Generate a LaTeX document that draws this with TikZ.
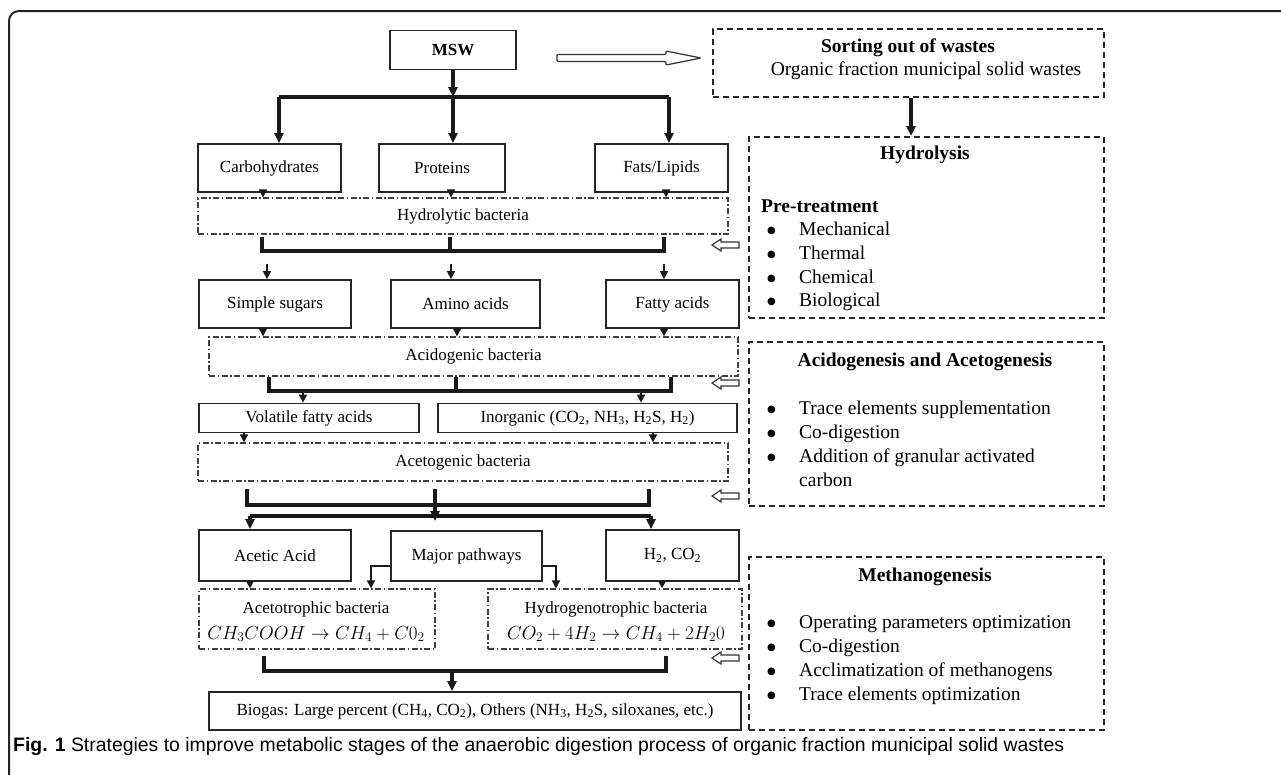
\documentclass[tikz,border=0pt]{standalone}
\usepackage{fix-cm}
\usepackage{fontspec}
\setmainfont{Liberation Serif}
\newfontfamily\capfont{Liberation Sans}
\newfontfamily\dvsfont{DejaVu Sans}
\usetikzlibrary{arrows.meta}
\newcommand\lfnt{\fontsize{17}{20}\selectfont}
\newcommand\rfnt{\fontsize{19.5}{23}\selectfont}
\newcommand\mfnt{\fontsize{19}{22}\selectfont}
\newcommand\bdot{\raisebox{2.5pt}{\dvsfont\fontsize{10}{12}\selectfont ●}}
\begin{document}
\begin{tikzpicture}[x=1pt,y=-1pt,
  box/.style={draw=black!85,line width=1.8pt,inner sep=0pt,font=\lfnt},
  ddbox/.style={draw=black!75,line width=1.2pt,dash pattern=on 6pt off 2.5pt on 1.5pt off 2.5pt,inner sep=0pt,font=\lfnt},
  rbox/.style={draw=black!85,line width=2pt,dash pattern=on 6pt off 4pt,inner sep=0pt},
  thk/.style={draw=black!90,line width=3.2pt},
  tip/.style={-{Triangle[length=10pt,width=9pt]}},
  sm/.style={draw=black!90,line width=1.6pt,-{Triangle[length=8pt,width=8pt]}},
  hol/.style={draw=black!80,line width=1.2pt,fill=white,line join=miter},
  rt/.style={font=\rfnt,inner sep=0pt},
  rtb/.style={font=\rfnt\bfseries,inner sep=0pt},
  bul/.style={font=\rfnt,inner sep=0pt,anchor=base west}
]
\useasboundingbox (0,0) rectangle (1281,774);
\fill[white] (0,0) rectangle (1281,774);
% outer frame
\draw[line width=2pt,black!85,rounded corners=10pt] (9,780) -- (9,11) -- (1290,11);

% ---------- left column ----------
\node[box,minimum width=126pt,minimum height=39pt,font=\lfnt\bfseries] (msw) at (453,50) {MSW};
\node[box,minimum width=143pt,minimum height=48pt] (carb) at (269.5,168) {Carbohydrates};
\node[box,minimum width=126pt,minimum height=48pt] (prot) at (442,168) {Proteins};
\node[box,minimum width=133pt,minimum height=48pt] (fats) at (661.5,168) {Fats/Lipids};
\node[ddbox,minimum width=530pt,minimum height=36pt] (hyd) at (463,216) {Hydrolytic bacteria};
\node[box,minimum width=152pt,minimum height=48pt] (sugars) at (275,304) {Simple sugars};
\node[box,minimum width=149pt,minimum height=48pt] (amino) at (465.5,304) {Amino acids};
\node[box,minimum width=133pt,minimum height=48pt] (fatty) at (672.5,304) {Fatty acids};
\node[ddbox,minimum width=529pt,minimum height=39pt] (acid) at (473.5,356.5) {Acidogenic bacteria};
\node[box,minimum width=220pt,minimum height=29pt] (vfa) at (309,418) {Volatile fatty acids};
\node[box,minimum width=299pt,minimum height=29pt] (inorg) at (587.5,418) {Inorganic (CO\textsubscript{2}, NH\textsubscript{3}, H\textsubscript{2}S, H\textsubscript{2})};
\node[ddbox,minimum width=530pt,minimum height=38pt] (aceto) at (463,462) {Acetogenic bacteria};
\node[box,minimum width=152pt,minimum height=51pt] (acetic) at (275,555.5) {Acetic Acid};
\node[box,minimum width=151pt,minimum height=50pt] (major) at (466.5,556) {Major pathways};
\node[box,minimum width=133pt,minimum height=51pt] (h2co2) at (672.5,555.5) {H\textsubscript{2}, CO\textsubscript{2}};
\node[ddbox,minimum width=236pt,minimum height=60pt] (acetotr) at (317,619) {};
\node[ddbox,minimum width=254pt,minimum height=60pt] (hydrotr) at (615,619) {};
\node[inner sep=0pt,font=\lfnt] (acetotrT) at (316,609) {Acetotrophic bacteria};
\node[inner sep=0pt,font=\mfnt] (acetotrE) at (316,634) {$CH_3COOH \rightarrow CH_4 + C0_2$};
\node[inner sep=0pt,font=\lfnt] (hydrotrT) at (616,609) {Hydrogenotrophic bacteria};
\node[inner sep=0pt,font=\mfnt] (hydrotrE) at (616,634) {$CO_2 + 4H_2 \rightarrow CH_4 + 2H_20$};
\node[box,minimum width=532pt,minimum height=38pt] (biogas) at (475,711) {Biogas: Large percent (CH\textsubscript{4}, CO\textsubscript{2}), Others (NH\textsubscript{3}, H\textsubscript{2}S, siloxanes, etc.)};

% MSW split
\coordinate (b1m) at (453,97);
\coordinate (b1l) at (279,97);
\coordinate (b1r) at (669,97);
\draw[thk,tip] (msw.south) -- (b1m);
\draw[thk] (b1l) -- (b1r);
\draw[thk,tip] (b1l) -- (b1l |- carb.north);
\draw[thk,tip] (b1m) -- (b1m |- prot.north);
\draw[thk,tip] (b1r) -- (b1r |- fats.north);
% row1 -> hydrolytic
\draw[sm] ([xshift=-6.5pt]carb.south) -- ([xshift=-6.5pt]carb.south |- hyd.north);
\draw[sm] ([xshift=9pt]prot.south) -- ([xshift=9pt]prot.south |- hyd.north);
\draw[sm] ([xshift=4.5pt]fats.south) -- ([xshift=4.5pt]fats.south |- hyd.north);
% bracket 1
\coordinate (k1a) at (262,237); \coordinate (k1b) at (450,237); \coordinate (k1c) at (664,237);
\draw[thk] (k1a) -- ++(0,14) -| (k1c);
\draw[thk] (k1b) -- ++(0,14);
\coordinate (s1a) at (267,264); \coordinate (s1b) at (451,264); \coordinate (s1c) at (664,264);
\draw[sm] (s1a) -- (s1a |- sugars.north);
\draw[sm] (s1b) -- (s1b |- amino.north);
\draw[sm] (s1c) -- (s1c |- fatty.north);
% row2 -> acidogenic
\draw[sm] ([xshift=-12pt]sugars.south) -- ([xshift=-12pt]sugars.south |- acid.north);
\draw[sm] ([xshift=-8.5pt]amino.south) -- ([xshift=-8.5pt]amino.south |- acid.north);
\draw[sm] ([xshift=-8.5pt]fatty.south) -- ([xshift=-8.5pt]fatty.south |- acid.north);
% bracket 2
\coordinate (k2a) at (269,377); \coordinate (k2b) at (456,377); \coordinate (k2c) at (671,377);
\draw[thk] (k2a) -- ++(0,14) -| (k2c);
\draw[thk] (k2b) -- ++(0,14);
\coordinate (k2l) at (303,391); \coordinate (k2r) at (641,391);
\draw[sm] (k2l) -- (k2l |- vfa.north);
\draw[sm] (k2r) -- (k2r |- inorg.north);
% row3 -> acetogenic
\draw[sm] ([xshift=-65pt]vfa.south) -- ([xshift=-65pt]vfa.south |- aceto.north);
\draw[sm] ([xshift=65.5pt]inorg.south) -- ([xshift=65.5pt]inorg.south |- aceto.north);
% bracket 3
\coordinate (k3a) at (247,489); \coordinate (k3b) at (435,489); \coordinate (k3c) at (649,489);
\draw[thk] (k3a) -- ++(0,16) -| (k3c);
\coordinate (k3m) at (435,521);
\draw[thk,tip] (k3b) -- (k3m);
\coordinate (k4l) at (250,516); \coordinate (k4r) at (651,516);
\draw[thk] (k4l) -- (k4r);
\draw[thk,tip] (k4l) -- (k4l |- acetic.north);
\draw[thk,tip] (k4r) -- (k4r |- h2co2.north);
% row4 -> bacteria
\draw[sm] ([xshift=-25pt]acetic.south) -- ([xshift=-25pt]acetic.south |- acetotr.north);
\draw[sm] ([xshift=-10.5pt]h2co2.south) -- ([xshift=-10.5pt]h2co2.south |- hydrotr.north);
\coordinate (mpl) at (371,566); \coordinate (mpr) at (556,566);
\draw[sm] (major.west |- mpl) -- (mpl) -- (mpl |- acetotr.north);
\draw[sm] (major.east |- mpr) -- (mpr) -- (mpr |- hydrotr.north);
% bracket 4
\coordinate (k5a) at (264,656); \coordinate (k5c) at (666,656);
\draw[thk] (k5a) -- ++(0,15) -| (k5c);
\coordinate (k5m) at (452,671);
\draw[thk,tip] (k5m) -- (k5m |- biogas.north);

% hollow arrows
\draw[hol,rounded corners=1pt] (557,54.5) -- (666,54.5) -- (666,51) -- (701,58) -- (666,65) -- (666,61.5) -- (557,61.5) -- cycle;
\foreach \yy in {245,383,496,658}{
  \draw[hol] (712,\yy) -- (721,{\yy-6}) -- (721,{\yy-3}) -- (739,{\yy-3}) -- (739,{\yy+3}) -- (721,{\yy+3}) -- (721,{\yy+6}) -- cycle;
}

% ---------- right column ----------
\node[rbox,minimum width=391pt,minimum height=68pt] (sort) at (908.5,63) {};
\node[rtb] (sortT) at (908,48) {Sorting out of wastes};
\node[rt] (sortS) at (926,71) {Organic fraction municipal solid wastes};
\node[rbox,minimum width=355pt,minimum height=181pt] (hydrol) at (926.5,227.5) {};
\draw[thk,tip] ([xshift=2.5pt]sort.south) -- ([xshift=2.5pt]sort.south |- hydrol.north);
\node[rtb] (hydrolT) at (925,155) {Hydrolysis};
\node[rtb,anchor=base west] (pre) at (761,212) {Pre-treatment};
\node[bul] (hb1) at (767,235.5) {\bdot}; \node[bul] (ht1) at (799,235.5) {Mechanical};
\node[bul] (hb2) at (767,259.5) {\bdot}; \node[bul] (ht2) at (799,259.5) {Thermal};
\node[bul] (hb3) at (767,283.5) {\bdot}; \node[bul] (ht3) at (799,283.5) {Chemical};
\node[bul] (hb4) at (767,306.5) {\bdot}; \node[bul] (ht4) at (799,306.5) {Biological};

\node[rbox,minimum width=355pt,minimum height=164pt] (acidoacet) at (926.5,424) {};
\node[rtb] (acidoT) at (925,362) {Acidogenesis and Acetogenesis};
\node[bul] (ab1) at (767,414.5) {\bdot}; \node[bul] (at1) at (799,414.5) {Trace elements supplementation};
\node[bul] (ab2) at (767,438.5) {\bdot}; \node[bul] (at2) at (799,438.5) {Co-digestion};
\node[bul] (ab3) at (767,462.5) {\bdot}; \node[bul] (at3) at (799,462.5) {Addition of granular activated};
\node[bul] (at4) at (799,486.5) {carbon};

\node[rbox,minimum width=355pt,minimum height=173pt] (methano) at (926.5,643.5) {};
\node[rtb] (methT) at (925,577) {Methanogenesis};
\node[bul] (mb1) at (767,628.5) {\bdot}; \node[bul] (mt1) at (799,628.5) {Operating parameters optimization};
\node[bul] (mb2) at (767,652.5) {\bdot}; \node[bul] (mt2) at (799,652.5) {Co-digestion};
\node[bul] (mb3) at (767,676.5) {\bdot}; \node[bul] (mt3) at (799,676.5) {Acclimatization of methanogens};
\node[bul] (mb4) at (767,700.5) {\bdot}; \node[bul] (mt4) at (799,700.5) {Trace elements optimization};

% caption
\node[anchor=west,inner sep=0pt,font=\capfont\fontsize{19.4}{22}\selectfont] (cap) at (13,747) {\textbf{Fig. 1} Strategies to improve metabolic stages of the anaerobic digestion process of organic fraction municipal solid wastes};
\end{tikzpicture}
\end{document}
